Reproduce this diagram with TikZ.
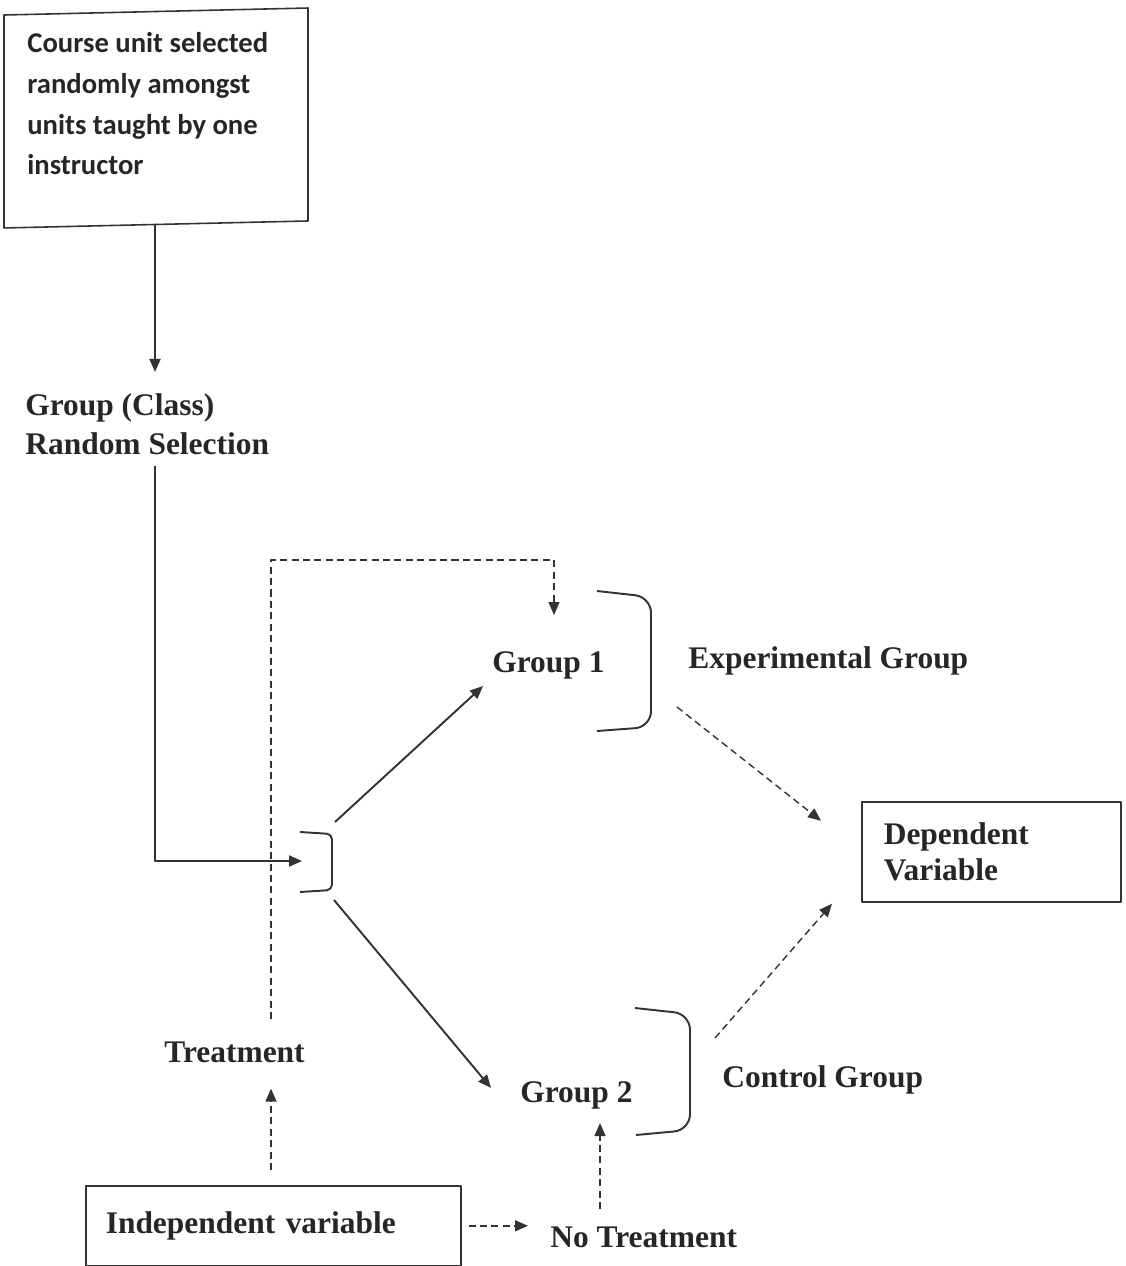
\documentclass[tikz,border=0pt]{standalone}
\usepackage{fontspec}
\setmainfont{Liberation Serif}
\newfontfamily\calibri{Carlito}
\usetikzlibrary{arrows.meta,positioning,calc}
\begin{document}
\begin{tikzpicture}[>={Triangle[length=.26cm,width=.22cm]}, line join=round, x=.02cm, y=-.02cm,
  ink/.style={draw=black!80, line width=1.1pt},
  dsh/.style={draw=black!80, line width=.8pt, dash pattern=on 4pt off 2.5pt},
  lbl/.style={inner sep=0pt, text=black!85, font=\fontsize{17.9}{22.7}\selectfont\bfseries},
  box/.style={draw=black!80, line width=.9pt}]
  \useasboundingbox (0,0) rectangle (1125,1266);
  \coordinate (spine) at (155,0);
  \coordinate (tline) at (271,0);
  \coordinate (ntline) at (600,0);
  \node[box, yslant=.023, minimum width=6.08cm, minimum height=4.26cm] (unit) at (156,118) {};
  \node[anchor=base west, align=left, inner sep=0pt, text=black!85, font=\calibri\fontsize{16.3}{23.3}\selectfont\bfseries] (unittext) at (27,175) {Course unit selected\\randomly amongst\\units taught by one\\instructor};
  \node[lbl, anchor=base west, align=left] (select) at (25,455) {Group (Class)\\Random Selection};
  \node[lbl, anchor=base west] (g1) at (492,672) {Group 1};
  \node[lbl, anchor=base west] (g2) at (520,1102) {Group 2};
  \node[lbl, anchor=base west] (exp) at (688,668) {Experimental Group};
  \node[lbl, anchor=base west] (ctrl) at (722,1087) {Control Group};
  \node[lbl, anchor=base west] (treat) at (164,1062) {Treatment};
  \node[lbl, anchor=base west] (notreat) at (550,1247) {No Treatment};
  \node[box, lbl, anchor=north west, text width=6.7cm, inner xsep=.4cm, minimum height=1.6cm] (ind) at (85,1185) {Independent variable};
  \node[box, lbl, anchor=north west, text width=4.3cm, inner xsep=.44cm, minimum height=2cm, align=left, font=\fontsize{17.9}{20.5}\selectfont\bfseries] (dep) at (861,801) {Dependent\\Variable};
  % brackets
  \draw[ink, rounded corners=3pt] (300,832) -- (332,834) -- (332,890) -- (300,892);
  \draw[ink, rounded corners=9pt] (597,591) -- (651,597) -- (651,727) -- (597,731);
  \draw[ink, rounded corners=9pt] (635,1008) -- (690,1014) -- (690,1130) -- (636,1135);
  \coordinate (fork) at (302,861);
  \coordinate (fkup) at (335,822);
  \coordinate (fkdn) at (334,900);
  \coordinate (loop) at (554,560);
  \coordinate (g1out) at (677,707);
  \coordinate (g2out) at (715,1038);
  % solid flow
  \draw[ink,->, shorten >=.42cm] (unit.south -| spine) -- (select.north -| spine);
  \draw[ink,->, shorten <=.2cm] (select.south -| spine) |- (fork);
  \draw[ink,->] (fkup) -- ($(g1.south west)+(-9,7)$);
  \draw[ink,->] (fkdn) -- ($(g2.west)+(-29,-7)$);
  % dashed flow
  \draw[dsh,->, shorten <=.44cm] (treat.north -| tline) |- (loop) -- ++(0,55);
  \draw[dsh,->, shorten <=.3cm, shorten >=.52cm] (ind.north -| tline) -- (treat.south -| tline);
  \draw[dsh,->, shorten <=.14cm, shorten >=.44cm] (ind.east) -- (ind.east -| notreat.west);
  \draw[dsh,->, shorten <=.34cm, shorten >=.28cm] (notreat.north -| ntline) -- (g2.south -| ntline);
  \draw[dsh,->] (g1out) -- ($(dep.west)+(-40,-31)$);
  \draw[dsh,->] (g2out) -- ($(dep.west)+(-29,52)$);
\end{tikzpicture}
\end{document}
